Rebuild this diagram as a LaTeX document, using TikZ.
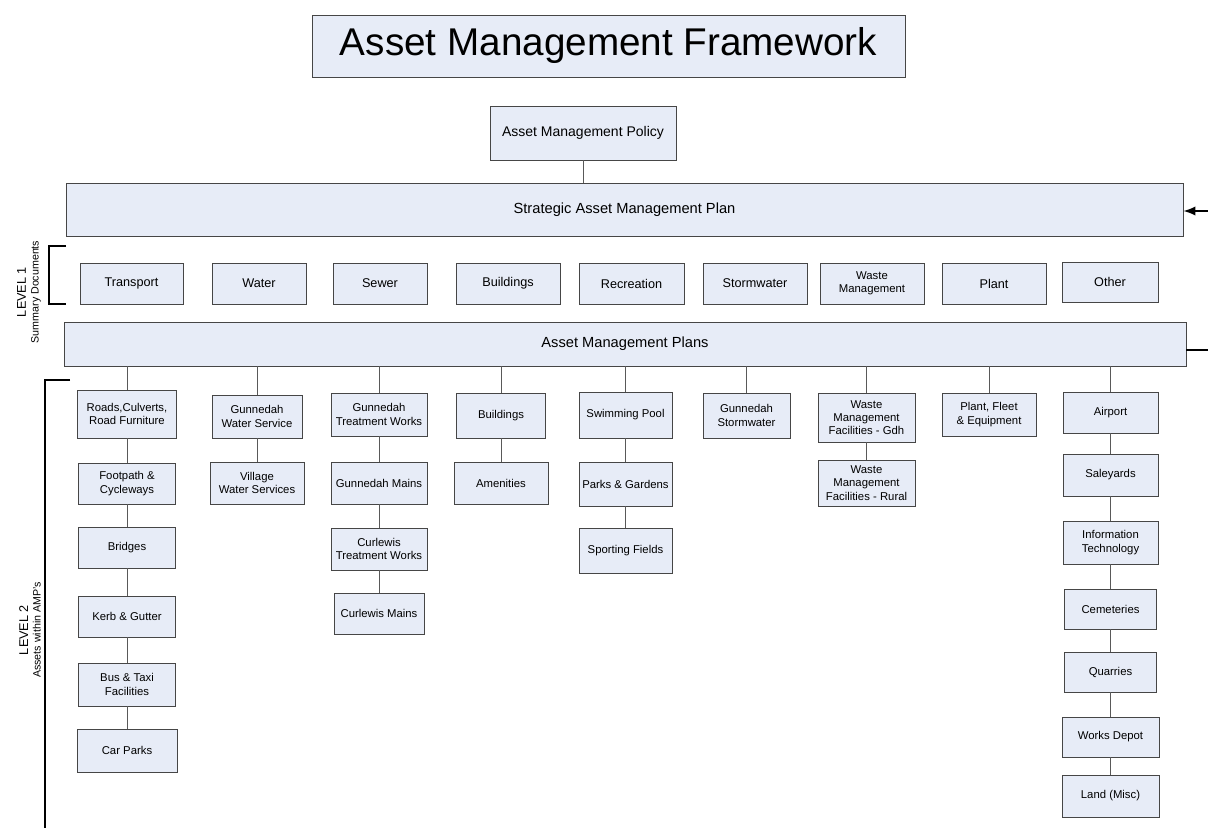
\documentclass[tikz,border=0pt]{standalone}
\usepackage{fontspec}
\setmainfont{Liberation Sans}
\usepackage{tikz}
\usetikzlibrary{arrows.meta}
\definecolor{boxfill}{RGB}{231,236,247}
\definecolor{boxline}{RGB}{70,70,70}
\tikzset{sz/.style 2 args={minimum width=#1*0.75pt, minimum height=#2*0.75pt}}

\begin{document}
\begin{tikzpicture}[x=0.75pt,y=-0.75pt]
        \tikzstyle{every node}=[draw=boxline, fill=boxfill, line width=0.65pt, inner sep=1pt, align=center, font=\fontsize{8.5}{10}\selectfont];
        \tikzstyle{topbox}=[font=\fontsize{9.5}{11}\selectfont];
        \tikzstyle{wide}=[font=\fontsize{11}{13}\selectfont];
        \tikzstyle{lvl}=[draw=none, fill=none, rotate=90, font=\fontsize{8}{9.5}\selectfont];
        \tikzstyle{conn}=[draw=black!65, line width=0.75pt];
        \tikzstyle{brack}=[draw=black, line width=1.2pt];
        \useasboundingbox (0,0) rectangle (1208,828);

        % heading, policy and summary plans
        \node[sz={593}{62}, font=\fontsize{29}{32}\selectfont] (title) at (608.5,46) {Asset Management Framework};
        \node[sz={186}{54}, font=\fontsize{10.5}{12}\selectfont] (policy) at (583,133) {Asset Management Policy};
        \node[sz={1117}{53}, wide] (samp) at (624.5,209.5) {Strategic Asset Management Plan};
        \node[sz={1122}{44}, wide] (amp) at (625,344) {Asset Management Plans};
        \draw[conn] (policy.south) -- (policy.south |- samp.north);

        \coordinate (inR) at (1208,211);
        \coordinate (outR) at (1208,350);
        \draw[black, line width=1.2pt, -{Latex[length=9pt,width=7pt]}] (inR) -- (samp.east |- inR);
        \draw[black, line width=1pt] (amp.east |- outR) -- (outR);

        % level 1
        \node[sz={103}{41}, topbox] (transport) at (131.5,283.5) {Transport};
        \node[sz={94}{41}, topbox] (water) at (259,283.5) {Water};
        \node[sz={94}{41}, topbox] (sewer) at (380,283.5) {Sewer};
        \node[sz={104}{41}, topbox] (buildings) at (508,283.5) {Buildings};
        \node[sz={105}{41}, topbox] (recreation) at (631.5,283.5) {Recreation};
        \node[sz={104}{41}, topbox] (storm) at (755,283.5) {Stormwater};
        \node[sz={104}{41}, font=\fontsize{8.5}{10}\selectfont] (waste) at (872,283.5) {Waste\\Management};
        \node[sz={104}{41}, topbox] (plant) at (994,283.5) {Plant};
        \node[sz={96}{40}, topbox] (other) at (1110,282) {Other};

        \draw[brack] (66,246) -- (49,246) -- (49,304) -- (66,304);
        \node[lvl] (lvlone) at (29,292) {{\fontsize{9.5}{11}\selectfont LEVEL 1}\\Summary Documents};

        % level 2, column by column
        \node[sz={99}{48}] (roads) at (127,414) {Roads,Culverts,\\Road Furniture};
        \node[sz={97}{41}] (foot) at (127,483.5) {Footpath \&\\Cycleways};
        \node[sz={97}{41}] (bridges) at (127,547.5) {Bridges};
        \node[sz={97}{41}] (kerb) at (127,616.5) {Kerb \& Gutter};
        \node[sz={97}{43}] (bus) at (127,684.5) {Bus \& Taxi\\Facilities};
        \node[sz={100}{43}] (carparks) at (127,750.5) {Car Parks};

        \node[sz={90}{43}] (gws) at (257,416.5) {Gunnedah\\Water Service};
        \node[sz={94}{42}] (vws) at (257,483) {Village\\Water Services};

        \node[sz={96}{43}] (gtw) at (379,414.5) {Gunnedah\\Treatment Works};
        \node[sz={96}{42}] (gmains) at (379,483) {Gunnedah Mains};
        \node[sz={96}{42}] (ctw) at (379,549) {Curlewis\\Treatment Works};
        \node[sz={90}{41}] (cmains) at (379,613.5) {Curlewis Mains};

        \node[sz={89}{45}] (bldg) at (501,415.5) {Buildings};
        \node[sz={94}{42}] (amenities) at (501,483) {Amenities};

        \node[sz={93}{46}] (pool) at (625.5,415) {Swimming Pool};
        \node[sz={93}{44}] (parks) at (625.5,484) {Parks \& Gardens};
        \node[sz={93}{45}] (fields) at (625.5,550.5) {Sporting Fields};

        \node[sz={87}{45}] (gstorm) at (746.5,415.5) {Gunnedah\\Stormwater};

        \node[sz={97}{49}] (wmgdh) at (866.5,417.5) {Waste\\Management\\Facilities - Gdh};
        \node[sz={97}{46}] (wmrural) at (866.5,483) {Waste\\Management\\Facilities - Rural};

        \node[sz={94}{43}] (fleet) at (989,414.5) {Plant, Fleet\\\& Equipment};

        \node[sz={95}{41}] (airport) at (1110.5,412.5) {Airport};
        \node[sz={95}{42}] (sale) at (1110.5,475) {Saleyards};
        \node[sz={95}{43}] (it) at (1110.5,542.5) {Information\\Technology};
        \node[sz={92}{40}] (cem) at (1110.5,609) {Cemeteries};
        \node[sz={92}{40}] (quarry) at (1110.5,672) {Quarries};
        \node[sz={97}{40}] (depot) at (1110.5,737) {Works Depot};
        \node[sz={97}{42}] (land) at (1110.5,796) {Land (Misc)};

        % tops of columns hang from the plans bar
        \foreach \n in {roads,gws,gtw,bldg,pool,gstorm,wmgdh,fleet,airport}
            \draw[conn] (amp.south -| \n.north) -- (\n.north);

        \draw[conn] (roads) -- (foot) -- (bridges) -- (kerb) -- (bus) -- (carparks);
        \draw[conn] (gws) -- (vws);
        \draw[conn] (gtw) -- (gmains) -- (ctw) -- (cmains);
        \draw[conn] (bldg) -- (amenities);
        \draw[conn] (pool) -- (parks) -- (fields);
        \draw[conn] (wmgdh) -- (wmrural);
        \draw[conn] (airport) -- (sale) -- (it) -- (cem) -- (quarry) -- (depot) -- (land);

        \draw[brack] (70,380) -- (45,380) -- (45,828);
        \node[lvl] (lvltwo) at (30,630) {{\fontsize{9.5}{11}\selectfont LEVEL 2}\\Assets within AMP's};
    \end{tikzpicture}
\end{document}
